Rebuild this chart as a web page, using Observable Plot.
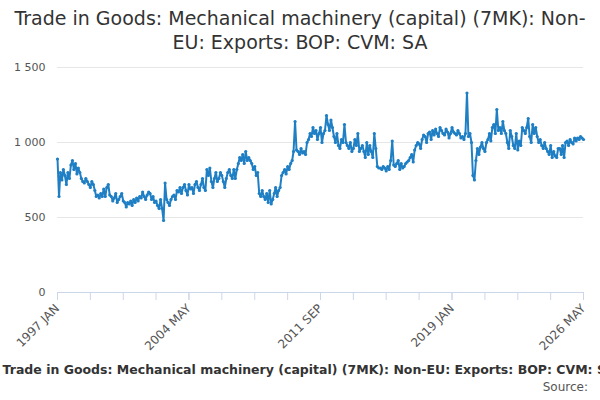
<!DOCTYPE html>
<html><head><meta charset="utf-8">
<script src="https://cdn.jsdelivr.net/npm/d3@7"></script>
<script src="https://cdn.jsdelivr.net/npm/@observablehq/plot@0.6"></script>
<style>
body{margin:0;background:#fff;font-family:"DejaVu Sans",sans-serif;width:600px;height:400px;overflow:hidden}
#t{text-align:center;font-size:19px;color:#333;line-height:24px;padding-top:6px;height:49px}
#lg{white-space:nowrap;font-size:12.5px;font-weight:bold;color:#333;position:absolute;top:362px;left:-8px}
#src{position:absolute;top:380px;right:12px;font-size:12px;color:#555}
</style></head><body>
<div id="t">Trade in Goods: Mechanical machinery (capital) (7MK): Non-<br>EU: Exports: BOP: CVM: SA</div>
<div id="chart"></div>
<div id="lg"><span style="color:#1f7fc4">–</span> Trade in Goods: Mechanical machinery (capital) (7MK): Non-EU: Exports: BOP: CVM: SA</div>
<div id="src">Source:</div>
<script>
const startYear = 1997;
const values = [
890,640,800,750,820,780,720,800,760,850,880,820,
860,790,830,800,760,740,730,760,740,720,700,740,
720,680,640,650,630,660,640,690,640,700,720,650,
640,610,630,660,600,620,640,660,610,600,570,600,
590,610,580,620,600,630,610,640,630,670,640,620,
650,670,660,620,640,600,610,580,560,620,560,480,
730,620,600,580,620,640,650,620,680,670,700,660,
700,720,680,650,720,690,700,660,720,740,700,680,
720,760,700,680,820,780,830,740,700,760,800,740,
760,800,780,740,700,760,800,820,780,760,820,760,
820,860,900,880,920,860,940,880,900,880,860,820,
840,780,800,660,640,680,640,620,660,600,680,590,
620,660,700,640,680,700,780,800,820,790,840,820,
860,880,940,1140,950,940,920,960,930,940,920,1000,
1020,1060,1040,1100,1060,1080,1020,1060,1100,1000,1060,1080,
1180,1120,1080,1150,1100,1040,1000,1060,980,960,1020,1000,
1120,1000,980,960,1000,940,960,1020,980,1060,940,960,
980,940,900,1000,920,980,940,900,1060,960,840,830,
830,820,840,830,810,840,820,880,1010,850,840,860,
880,820,860,830,840,860,870,880,900,920,870,950,
980,1000,990,960,1020,1050,1040,1000,1060,1070,1020,1080,
1050,1090,1060,1040,1100,1080,1060,1050,1090,1070,1030,1060,
1100,1070,1060,1050,1080,1060,1030,1040,1020,1060,1330,1040,
1060,1000,780,750,880,960,920,970,1000,960,940,1000,
1020,1060,1010,1100,1120,1060,1220,1080,1100,1060,1140,1080,
1060,1000,960,1080,1040,980,960,1060,950,1010,980,1100,
1080,1060,1100,1160,1040,1000,1120,1060,1100,1040,1000,1020,
980,960,1000,960,940,920,980,900,940,910,900,960,
960,920,980,900,1000,1010,980,1020,1000,990,1030,1010,
1030,1020,1040,1030,1020];
const data = values.map((v,i)=>({date:new Date(Date.UTC(startYear,i,1)),value:v}));
const months=["JAN","FEB","MAR","APR","MAY","JUN","JUL","AUG","SEP","OCT","NOV","DEC"];
const labelTicks=[0,88,176,264,352].map(i=>new Date(Date.UTC(startYear,i,1)));
const minorTicks=d3.range(0,353,22).map(i=>new Date(Date.UTC(startYear,i,1)));
const fmt=d=>d.getUTCFullYear()+" "+months[d.getUTCMonth()];
const c="#1f7fc4";
const p=Plot.plot({
  width:600,height:297,marginTop:12,marginBottom:60,marginLeft:57,marginRight:17,
  style:{fontFamily:"DejaVu Sans",fontSize:"11px",color:"#555"},
  x:{type:"utc",domain:[data[0].date,data[data.length-1].date]},
  y:{domain:[0,1500]},
  marks:[
    Plot.gridY([0,500,1000,1500],{stroke:"#e6e6e6",strokeOpacity:1}),
    Plot.axisY([0,500,1000,1500],{tickSize:0,tickFormat:d=>d3.format(",")(d).replace(",", " "),label:null,tickPadding:12}),
    Plot.ruleY([0],{stroke:"#ccd6eb"}),
    Plot.axisX(minorTicks,{tickFormat:()=>"",label:null,tickSize:8,stroke:"#ccd6eb"}),
    Plot.axisX(labelTicks,{tickRotate:-45,tickFormat:fmt,label:null,tickSize:8,stroke:"#ccd6eb",fontSize:12}),
    Plot.line(data,{x:"date",y:"value",stroke:c,strokeWidth:2}),
    Plot.dot(data,{x:"date",y:"value",fill:c,r:1.6})
  ]
});
document.getElementById("chart").appendChild(p);
</script></body></html>
